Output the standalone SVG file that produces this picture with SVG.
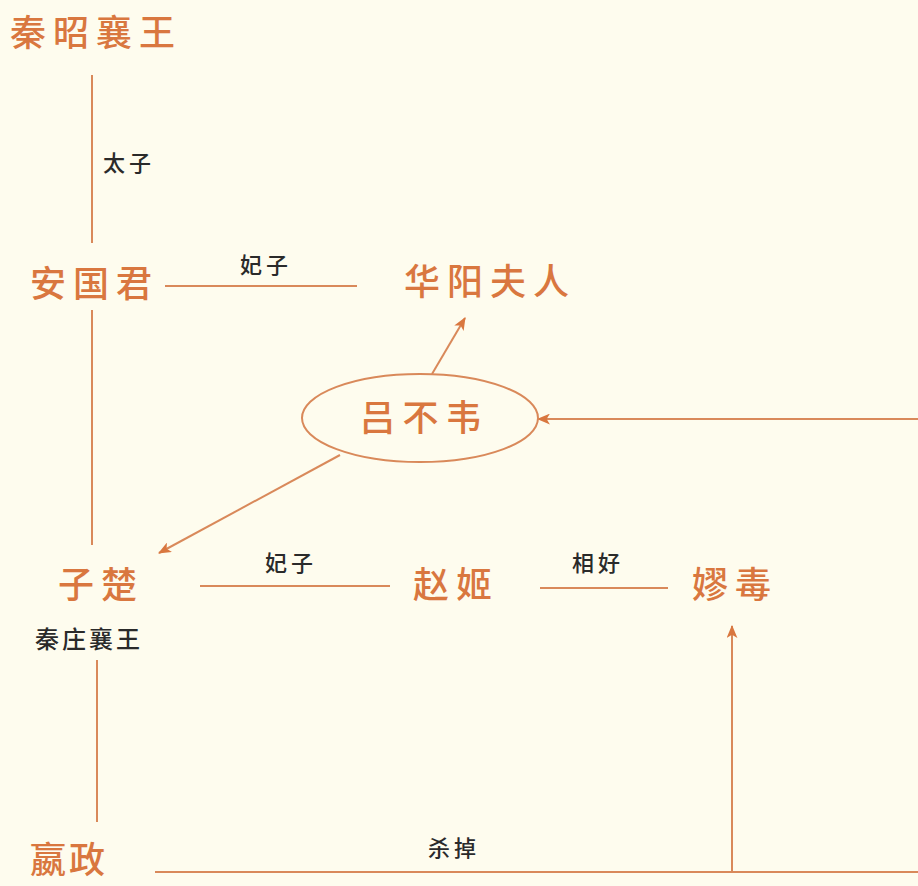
<svg xmlns="http://www.w3.org/2000/svg" width="918" height="886" viewBox="0 0 918 886">
<style>
.n{font-family:"Noto Sans CJK SC","Noto Sans",sans-serif;fill:#D9773F;font-size:36px;letter-spacing:7px;font-weight:500}
.l{font-family:"Noto Sans CJK SC","Noto Sans",sans-serif;fill:#2a2a2a;font-size:22px;letter-spacing:4px;font-weight:500}
.c{stroke:#D9895A;stroke-width:2;fill:none}
</style>
<defs>
<marker id="a" viewBox="0 0 12 10" refX="11" refY="5" markerWidth="13" markerHeight="11" markerUnits="userSpaceOnUse" orient="auto">
<path d="M0,0 L12,5 L0,10 L3,5 Z" fill="#D9773F"/>
</marker>
</defs>
<rect width="918" height="886" fill="#FEFCEE"/>
<g id="connectors">
<line class="c" x1="92" y1="75" x2="92" y2="243"/>
<line class="c" x1="92" y1="310" x2="92" y2="545"/>
<line class="c" x1="97" y1="660" x2="97" y2="822"/>
<line class="c" x1="165" y1="286" x2="357" y2="286"/>
<line class="c" x1="432" y1="374" x2="465" y2="318" marker-end="url(#a)"/>
<line class="c" x1="918" y1="419" x2="538" y2="419" marker-end="url(#a)"/>
<line class="c" x1="340" y1="455" x2="159" y2="553" marker-end="url(#a)"/>
<line class="c" x1="200" y1="586" x2="390" y2="586"/>
<line class="c" x1="540" y1="588" x2="668" y2="588"/>
<line class="c" x1="155" y1="872" x2="918" y2="872"/>
<line class="c" x1="732" y1="872" x2="732" y2="626" marker-end="url(#a)"/>
</g>
<g id="label-taizi"><text class="l" x="103" y="171">太子</text></g>
<g id="label-feizi1"><text class="l" x="240" y="273">妃子</text></g>
<g id="label-feizi2"><text class="l" x="265" y="571">妃子</text></g>
<g id="label-xianghao"><text class="l" x="572" y="571">相好</text></g>
<g id="label-shadiao"><text class="l" x="428" y="856">杀掉</text></g>
<g id="node-qinzhaoxiang"><text class="n" x="10" y="46">秦昭襄王</text></g>
<g id="node-anguojun"><text class="n" x="30" y="297">安国君</text></g>
<g id="node-huayang"><text class="n" x="404" y="295">华阳夫人</text></g>
<g id="node-lvbuwei">
<ellipse cx="420" cy="418" rx="118" ry="44" class="c"/>
<text class="n" x="424" y="431" text-anchor="middle">吕不韦</text>
</g>
<g id="node-zichu">
<text class="n" x="58" y="598">子楚</text>
<text class="l" x="35" y="648" style="font-size:24px;letter-spacing:3px">秦庄襄王</text>
</g>
<g id="node-zhaoji"><text class="n" x="413" y="598">赵姬</text></g>
<g id="node-laoai"><text class="n" x="692" y="598">嫪毒</text></g>
<g id="node-yingzheng"><text class="n" x="30" y="873" style="letter-spacing:3px">嬴政</text></g>
</svg>
